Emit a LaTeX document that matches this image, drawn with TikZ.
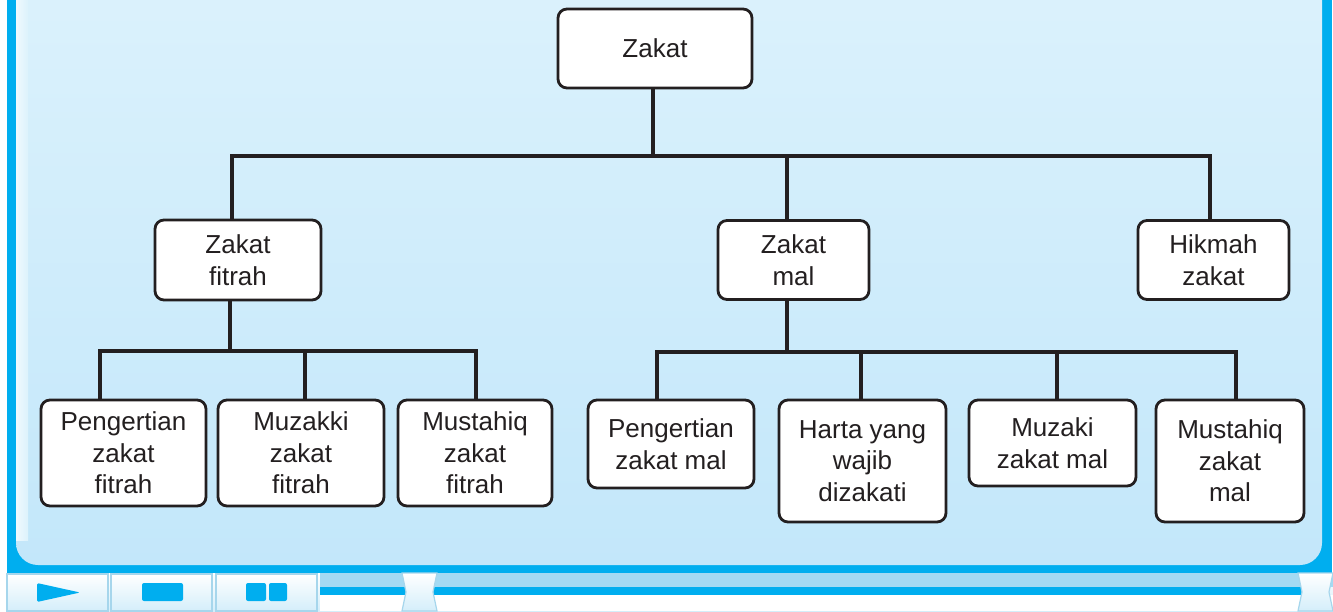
\documentclass[tikz,border=0pt]{standalone}
\usepackage{fontspec}
\setmainfont{Liberation Sans}
\definecolor{frameblue}{HTML}{00AEEF}
\definecolor{paneltop}{HTML}{DCF2FC}
\definecolor{panelbot}{HTML}{C3E7FA}
\definecolor{ink}{HTML}{231F20}
\definecolor{btnline}{HTML}{A6D6EC}
\definecolor{btnbot}{HTML}{D4EEFA}
\definecolor{sliderlight}{HTML}{A3DAF3}
\begin{document}
\begin{tikzpicture}[x=1pt,y=-1pt,
  box/.style={draw=ink, line width=2.8pt, rounded corners=9pt, fill=white,
    align=center, inner sep=0pt, text=ink,
    font=\fontsize{26}{31.5}\selectfont},
  link/.style={draw=ink, line width=4.6pt},
  btn/.style={draw=btnline, line width=1.2pt, top color=white, bottom color=btnbot},
  glyph/.style={fill=frameblue},
]
\useasboundingbox (0,0) rectangle (1333,611);
% ---- frame ----
\fill[white] (0,0) rectangle (1333,611);
\fill[frameblue] (7,0) rectangle (1332,573);
\shade[top color=paneltop, bottom color=panelbot, rounded corners=22pt]
  (16,-40) rectangle (1322,565);
\shade[left color=white!55!paneltop, right color=paneltop] (16,0) rectangle (28,540);
% control row
\shade[top color=white, bottom color=btnbot] (7,573) rectangle (1333,611);
\path[btn] (7,574) rectangle (108,611);
\path[btn] (111,574) rectangle (212,611);
\path[btn] (216,574) rectangle (317,611);
\fill[glyph, rounded corners=1.5pt] (37,583) -- (80,592.5) -- (37,602) -- cycle;
\fill[glyph, rounded corners=2pt] (142,583) rectangle (183,601);
\fill[glyph, rounded corners=2pt] (246,583) rectangle (266,601);
\fill[glyph, rounded corners=2pt] (269,583) rectangle (287,601);
% slider
\fill[sliderlight] (320,573) rectangle (1333,587);
\fill[frameblue] (320,587) rectangle (1310,595);
\fill[white] (320,595) rectangle (1333,611);
\path[btn] (402,573) -- (437,573) -- (433,592) -- (437,611) -- (402,611) -- (406,592) -- cycle;
\path[btn] (1298,573) -- (1333,573) -- (1329,592) -- (1333,611) -- (1298,611) -- (1302,592) -- cycle;

% ---- nodes ----
\node[box, minimum width=194pt, minimum height=79pt] (zakat) at (655,48.5) {Zakat};
\node[box, minimum width=166pt, minimum height=80pt] (fitrah) at (238,260) {Zakat\\fitrah};
\node[box, minimum width=151pt, minimum height=79pt] (mal) at (793.5,260) {Zakat\\mal};
\node[box, minimum width=151pt, minimum height=79pt] (hikmah) at (1213.5,260) {Hikmah\\zakat};

\node[box, minimum width=165pt, minimum height=106pt] (pf) at (123.5,453) {Pengertian\\zakat\\fitrah};
\node[box, minimum width=166pt, minimum height=106pt] (mf) at (301,453) {Muzakki\\zakat\\fitrah};
\node[box, minimum width=154pt, minimum height=106pt] (sf) at (475,453) {Mustahiq\\zakat\\fitrah};

\node[box, minimum width=166pt, minimum height=88pt] (pm) at (671,444) {Pengertian\\zakat mal};
\node[box, minimum width=167pt, minimum height=122pt] (hw) at (862.5,461) {Harta yang\\wajib\\dizakati};
\node[box, minimum width=167pt, minimum height=86pt] (mm) at (1052.5,443) {Muzaki\\zakat mal};
\node[box, minimum width=148pt, minimum height=122pt] (sm) at (1230,461) {Mustahiq\\zakat\\mal};

% ---- connectors ----
\coordinate (tz) at (653,156);
\coordinate (t1) at (232,156);
\coordinate (tm) at (787,156);
\coordinate (t2) at (1210,156);
\draw[link] (tz |- zakat.south) -- (tz);
\draw[link] (t1 |- fitrah.north) -- (t1) -- (t2) -- (t2 |- hikmah.north);
\draw[link] (tm) -- (tm |- mal.north);

\coordinate (fb) at (230,351);
\coordinate (f1) at (100,351);
\coordinate (f2) at (305,351);
\coordinate (f3) at (476,351);
\draw[link] (fb |- fitrah.south) -- (fb);
\draw[link] (f1 |- pf.north) -- (f1) -- (f3) -- (f3 |- sf.north);
\draw[link] (f2) -- (f2 |- mf.north);

\coordinate (mb) at (787,352);
\coordinate (m1) at (657,352);
\coordinate (m2) at (861,352);
\coordinate (m3) at (1057,352);
\coordinate (m4) at (1236,352);
\draw[link] (mb |- mal.south) -- (mb);
\draw[link] (m1 |- pm.north) -- (m1) -- (m4) -- (m4 |- sm.north);
\draw[link] (m2) -- (m2 |- hw.north);
\draw[link] (m3) -- (m3 |- mm.north);
\end{tikzpicture}
\end{document}
